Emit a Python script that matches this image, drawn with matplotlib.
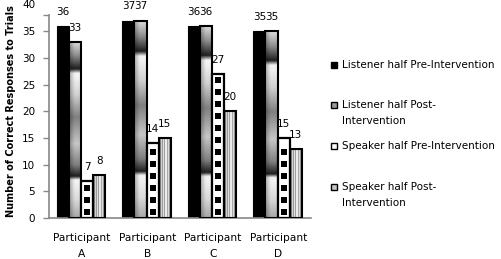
import matplotlib
matplotlib.use("Agg")
import matplotlib.pyplot as plt
from matplotlib.patches import Rectangle
import numpy as np

# data
participants = ["Participant\nA", "Participant\nB", "Participant\nC", "Participant\nD"]
listener_pre = [36, 37, 36, 35]
listener_post = [33, 37, 36, 35]
speaker_pre = [7, 14, 27, 15]
speaker_post = [8, 15, 20, 13]
series_labels = ["Listener half Pre-Intervention",
                 "Listener half Post-\nIntervention",
                 "Speaker half Pre-Intervention",
                 "Speaker half Post-\nIntervention"]
y_ticks = [0, 5, 10, 15, 20, 25, 30, 35, 40]

plt.rcParams['font.family'] = ['DejaVu Sans']

fig = plt.figure(figsize=(5.01, 2.59), dpi=100)
ax = fig.add_axes([49 / 501, 1 - 218 / 259, 262 / 501, (218 - 4.5) / 259])

x = np.arange(len(participants))
w = 0.185
offs = [-1.5 * w - 0.01, -0.5 * w - 0.01, 0.5 * w - 0.01, 1.5 * w - 0.01]

b1 = ax.bar(x + offs[0], listener_pre, w, color='black', edgecolor='black', linewidth=0.8, zorder=2)
b2 = ax.bar(x + offs[1], listener_post, w, color='none', edgecolor='black', linewidth=1.5, zorder=4)
b3 = ax.bar(x + offs[2], speaker_pre, w, color='white', edgecolor='black', linewidth=1.6, zorder=4)
b4 = ax.bar(x + offs[3], speaker_post, w, color='none', edgecolor='black', linewidth=1.5, zorder=4)

# gradient texture for listener post bars (vertical banding, darker left side)
tt = np.linspace(0, 1, 200)
prof = np.interp(tt,
                 [0.0, 0.1, 0.2, 0.215, 0.235, 0.3, 0.42, 0.57, 0.7, 0.8, 0.82, 0.845, 0.92, 1.0],
                 [0.65, 0.85, 0.95, 0.95, 0.12, 0.5, 0.78, 0.5, 0.82, 0.95, 0.95, 0.12, 0.55, 0.88])
xx = np.linspace(0, 1, 24)
colf = np.interp(xx, [0, 0.45, 1], [0.7, 1.0, 1.0])
grad = np.clip(prof[:, None] * colf[None, :], 0, 1)
for p in b2.patches:
    im = ax.imshow(grad, extent=[p.get_x(), p.get_x() + p.get_width(), 0, p.get_height()],
                   origin='lower', aspect='auto', cmap='gray', vmin=0, vmax=1,
                   interpolation='bilinear', zorder=3)
    im.set_clip_path(p)

# vertical stripes for speaker post bars
stripes = np.array([[0.75, 0.55, 0.82, 0.6, 0.88, 0.62, 0.92, 0.66, 0.85, 0.6, 0.78, 0.55]])
for p in b4.patches:
    im = ax.imshow(stripes, extent=[p.get_x(), p.get_x() + p.get_width(), 0, p.get_height()],
                   origin='lower', aspect='auto', cmap='gray', vmin=0, vmax=1,
                   interpolation='nearest', zorder=3)
    im.set_clip_path(p)

# black squares inside speaker pre bars
for p in b3.patches:
    ys = np.arange(1.1, p.get_height() - 0.8, 2.25)
    cx = p.get_x() + p.get_width() / 2
    sc = ax.scatter(np.full(len(ys), cx), ys, marker='s', s=16, color='black',
                    linewidths=0, zorder=5)
    sc.set_clip_path(p)

for bc in (b1, b2, b3, b4):
    ax.bar_label(bc, padding=6.5, fontsize=7.5)

ax.set_xlim(-0.5, 3.5)
ax.set_ylim(0, 40)
ax.set_yticks(y_ticks)
ax.set_xticks(x)
ax.set_xticklabels(participants, fontsize=7.7, linespacing=1.75)
ax.tick_params(axis='x', length=0, pad=11)
ax.tick_params(axis='y', labelsize=7.5, length=4, color='#888888', width=1, pad=6)
ax.yaxis.get_major_ticks()[-1].tick1line.set_visible(False)
ax.set_yticks([38.1], minor=True)
ax.tick_params(axis='y', which='minor', length=4, color='#888888', width=1)

for s in ('top', 'right'):
    ax.spines[s].set_visible(False)
ax.spines['left'].set_bounds(0, 38.1)
ax.spines['left'].set_color('#888888')
ax.spines['bottom'].set_color('#888888')
ax.spines['left'].set_linewidth(1.2)
ax.spines['bottom'].set_linewidth(1.2)

ax.set_ylabel("Number of Correct Responses to Trials", fontsize=7, fontweight='bold')
ax.yaxis.set_label_coords(-0.125, 0.5)

# legend drawn in figure pixels
W, H = 501, 259
leg_y = [65, 105, 146, 187]
faces = ['black', '#9a9a9a', 'white', '#c8c8c8']
for yc, lab, fc in zip(leg_y, series_labels, faces):
    fig.patches.append(Rectangle((331 / W, 1 - (yc + 3) / H), 6 / W, 6 / H,
                                 facecolor=fc, edgecolor='black', linewidth=1,
                                 transform=fig.transFigure))
    for k, line in enumerate(lab.split("\n")):
        fig.text(342 / W, 1 - (yc + 16 * k) / H, line, fontsize=7.5, va='center', ha='left')

fig.savefig("out.png", dpi=100)
